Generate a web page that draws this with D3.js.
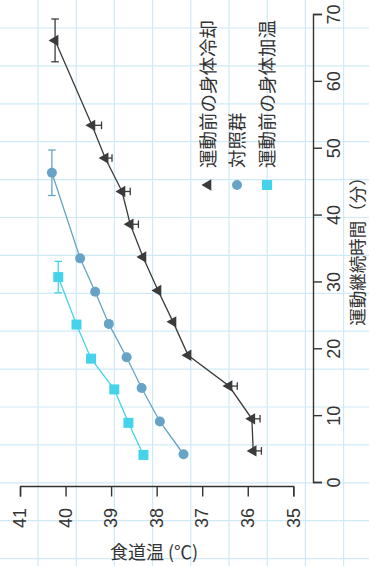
<!DOCTYPE html>
<html><head><meta charset="utf-8">
<script src="https://cdn.jsdelivr.net/npm/d3@7"></script>
<style>body{margin:0;background:#fff} svg{display:block}</style>
</head><body>
<svg id="c" width="369" height="566"></svg>
<script>
// ---- data ----
const timeTicks = [0,10,20,30,40,50,60,70];
const tempTicks = [41,40,39,38,37,36,35];
const seriesNames = ["運動前の身体冷却","対照群","運動前の身体加温"];
const xTitle = "運動継続時間（分）";
const yTitle = "食道温 (℃)";

const coolTime    = [4.8, 9.6, 14.5, 19.1, 24.1, 28.8, 33.8, 38.7, 43.6, 48.6, 53.5, 66.2];
const coolTemp    = [35.88,35.91,36.41,37.31,37.64,37.97,38.30,38.58,38.76,39.13,39.42,40.23];
const coolTempErr = [0.18,0.18,0.18,0,0,0,0,0.18,0.18,0.15,0.21,0];
const coolTimeErr = [0,0,0,0,0,0,0,0,0,0,0,3.2];

const ctrlTime    = [4.3, 9.2, 14.2, 18.8, 23.8, 28.6, 33.6, 46.4];
const ctrlTemp    = [37.41,37.93,38.33,38.66,39.05,39.35,39.68,40.30];
const ctrlTimeErr = [0,0,0,0,0,0,0,3.4];

const warmTime    = [4.2, 9.0, 14.0, 18.6, 23.7, 30.8];
const warmTemp    = [38.29,38.62,38.93,39.44,39.76,40.16];
const warmTimeErr = [0,0,0,0,0,2.35];

// ---- drawing ----
const svg = d3.select("#c");
const SW = 369, SH = 566;

// graph-paper background (screen coords)
const bg = svg.append("g").attr("stroke","#cfeaf5").attr("stroke-width",1.2);
d3.range(0,9).forEach(k=>{ const gx=38+38.2*k; bg.append("line").attr("x1",gx).attr("x2",gx).attr("y1",0).attr("y2",SH); });
d3.range(0,15).forEach(k=>{ const gy=28+37.9*k; bg.append("line").attr("x1",0).attr("x2",SW).attr("y1",gy).attr("y2",gy); });

// chart drawn in an unrotated frame (566 x 369), rotated -90deg
const g = svg.append("g").attr("transform",`translate(0,${SH}) rotate(-90)`);
const x = d3.scaleLinear().domain([0,70]).range([83,551]);
const y = d3.scaleLinear().domain([35,41]).range([293.3,20]);

const axisColor = "#333";
const xa = g.append("g").attr("transform","translate(0,313)")
  .call(d3.axisBottom(x).tickValues(timeTicks).tickFormat(d3.format("d")).tickSize(9).tickPadding(5));
const ya = g.append("g").attr("transform","translate(79,0)")
  .call(d3.axisLeft(y).tickValues(tempTicks).tickFormat(d3.format("d")).tickSize(9.5).tickPadding(11.5));
[xa,ya].forEach(a=>{
  a.selectAll("path,line").attr("stroke",axisColor).attr("stroke-width",1.4);
  a.selectAll("text").attr("font-family","'Liberation Sans',Arial,sans-serif").attr("font-size",18).attr("fill","#333");
});

g.append("text").attr("x",319).attr("y",358).attr("dy","0.36em").attr("text-anchor","middle")
  .attr("font-family","'Noto Sans CJK JP',sans-serif").attr("font-size",17.5).attr("fill","#333").text(xTitle);

svg.append("text").attr("x",154).attr("y",553).attr("dy","0.36em").attr("text-anchor","middle")
  .attr("font-family","'Noto Sans CJK JP',sans-serif").attr("font-size",18).attr("fill","#333").text(yTitle);

const series = [
  {name:seriesNames[0], t:coolTime, T:coolTemp, te:coolTimeErr, Te:coolTempErr, color:"#3b3b3b", shape:"tri"},
  {name:seriesNames[1], t:ctrlTime, T:ctrlTemp, te:ctrlTimeErr, Te:ctrlTime.map(()=>0), color:"#66a3c6", shape:"circle"},
  {name:seriesNames[2], t:warmTime, T:warmTemp, te:warmTimeErr, Te:warmTime.map(()=>0), color:"#45d3ec", shape:"square"}
];

const line = d3.line().x(d=>x(d.t)).y(d=>y(d.T));
const cap = 3.8;

function drawMarker(sel, shape, color){
  if(shape==="tri") sel.append("path").attr("d", d3.symbol(d3.symbolTriangle, 56)()).attr("fill",color);
  else if(shape==="circle") sel.append("circle").attr("r",5).attr("fill",color);
  else sel.append("rect").attr("x",-5).attr("y",-5).attr("width",10).attr("height",10).attr("fill",color);
}

series.forEach(s=>{
  const pts = s.t.map((t,i)=>({t, T:s.T[i], te:s.te[i], Te:s.Te[i]}));
  const sg = g.append("g");
  sg.append("path").datum(pts).attr("d",line).attr("fill","none").attr("stroke",s.color).attr("stroke-width",1.3);
  const eb = sg.append("g").attr("stroke",s.color).attr("stroke-width",1.3);
  pts.forEach(p=>{
    if(p.te>0){
      const x1=x(p.t-p.te), x2=x(p.t+p.te), yy=y(p.T);
      eb.append("line").attr("x1",x1).attr("x2",x2).attr("y1",yy).attr("y2",yy);
      eb.append("line").attr("x1",x1).attr("x2",x1).attr("y1",yy-cap).attr("y2",yy+cap);
      eb.append("line").attr("x1",x2).attr("x2",x2).attr("y1",yy-cap).attr("y2",yy+cap);
    }
    if(p.Te>0){
      const xx=x(p.t), y1=y(p.T), y2=y(p.T-p.Te);
      eb.append("line").attr("x1",xx).attr("x2",xx).attr("y1",y1).attr("y2",y2);
      eb.append("line").attr("x1",xx-cap).attr("x2",xx+cap).attr("y1",y2).attr("y2",y2);
    }
  });
  pts.forEach(p=>{
    const m = sg.append("g").attr("transform",`translate(${x(p.t)},${y(p.T)})`);
    drawMarker(m, s.shape, s.color);
  });
});

// legend
const legV = [208, 237, 267];
series.forEach((s,i)=>{
  const m = g.append("g").attr("transform",`translate(381,${legV[i]})`);
  drawMarker(m, s.shape, s.color);
  g.append("text").attr("x",398).attr("y",legV[i]).attr("dy","0.36em")
    .attr("font-family","'Noto Sans CJK JP',sans-serif").attr("font-size",18.5).attr("fill","#333").text(s.name);
});
</script>
</body></html>
